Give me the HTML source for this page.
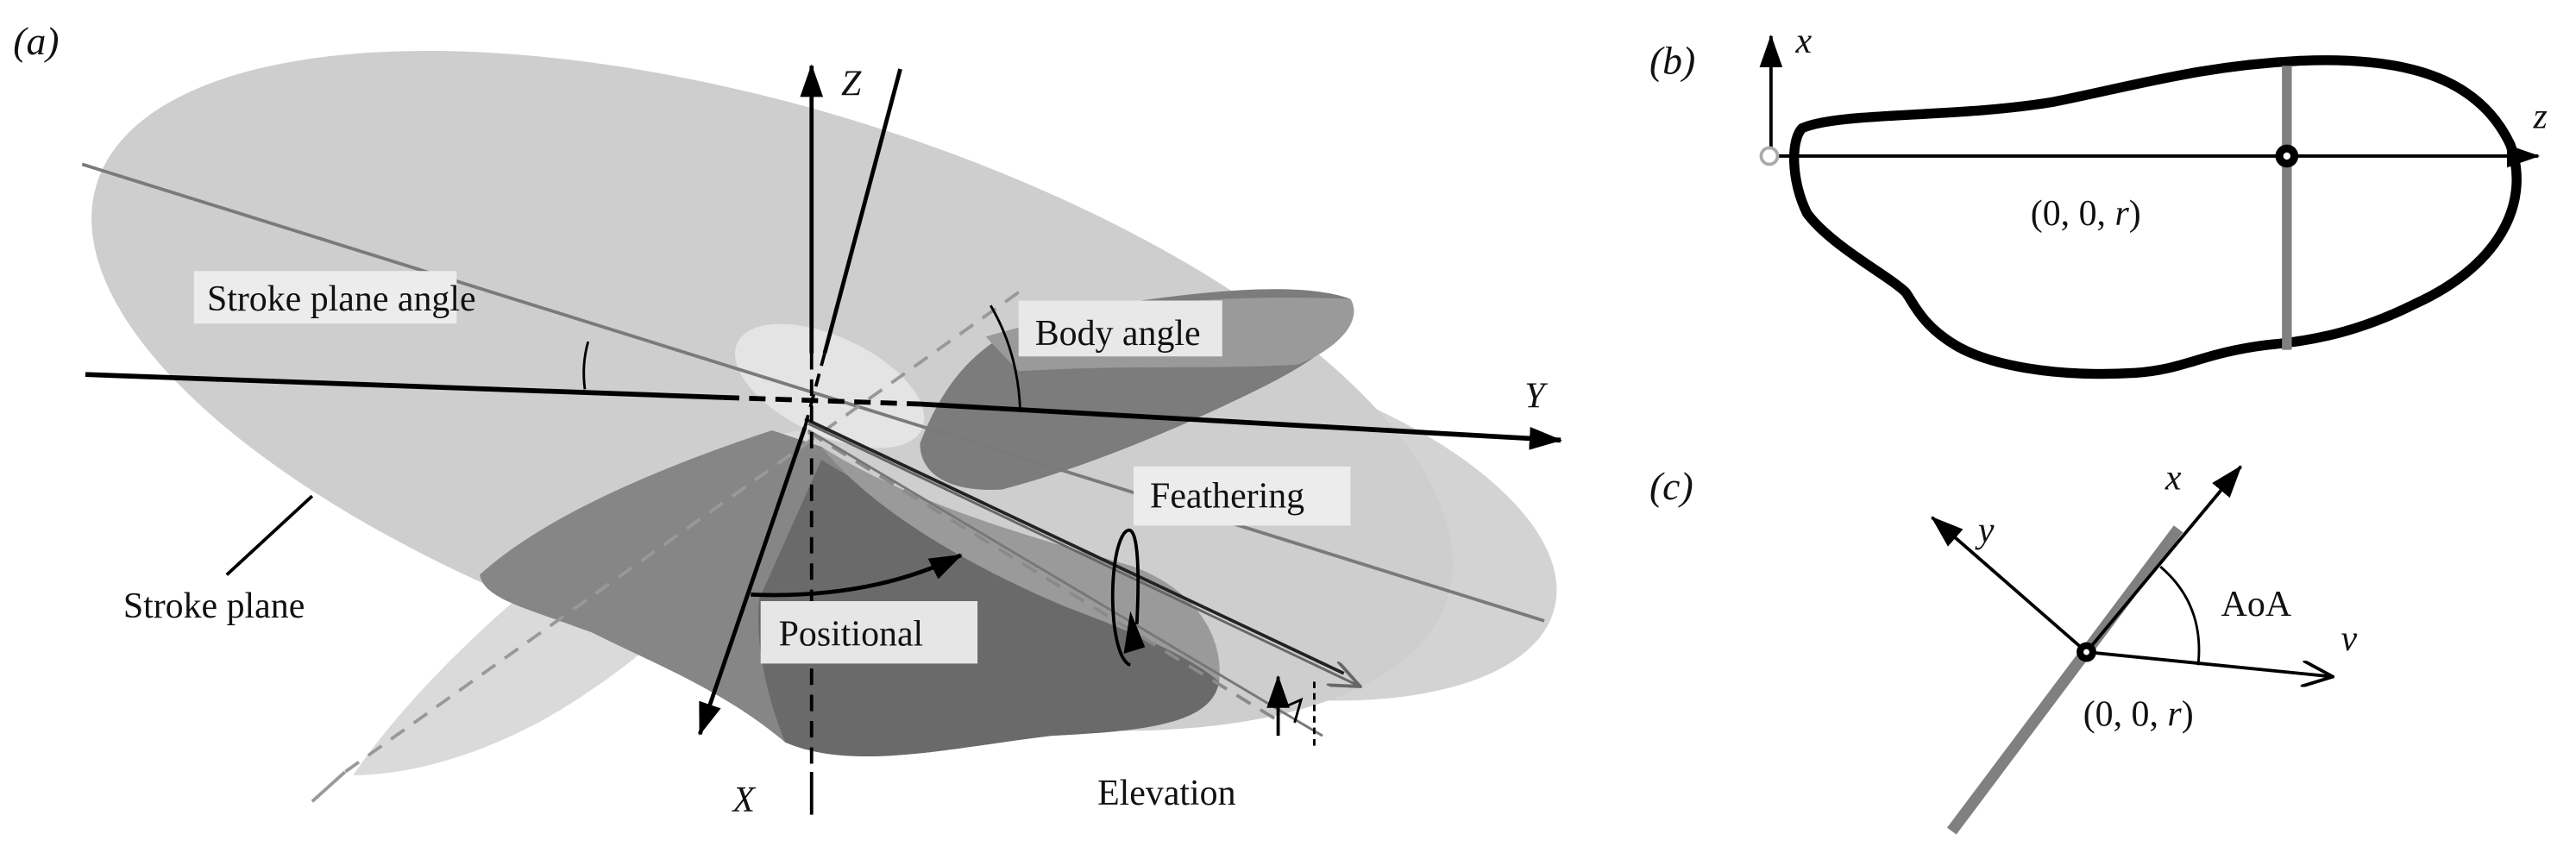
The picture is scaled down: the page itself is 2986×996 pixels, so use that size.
<!DOCTYPE html>
<html><head><style>
html,body{margin:0;padding:0;background:#fff}
svg{display:block}
text{font-family:"Liberation Serif",serif;fill:#111}
</style></head><body>
<svg width="2986" height="996" viewBox="0 0 1568 523" xmlns="http://www.w3.org/2000/svg">
<defs>
<marker id="big" viewBox="0 0 20 14" markerWidth="20" markerHeight="14" refX="19" refY="7" orient="auto" markerUnits="userSpaceOnUse"><path d="M0,0 L20,7 L0,14 z" fill="#000"/></marker>
<marker id="open" viewBox="0 0 20 16" markerWidth="20" markerHeight="16" refX="19" refY="8" orient="auto" markerUnits="userSpaceOnUse"><path d="M0,0 L19,8 L0,16" fill="none" stroke="#000" stroke-width="2"/></marker>
<marker id="openg" viewBox="0 0 20 16" markerWidth="20" markerHeight="16" refX="19" refY="8" orient="auto" markerUnits="userSpaceOnUse"><path d="M0,0 L19,8 L0,16" fill="none" stroke="#666" stroke-width="2"/></marker>
</defs>
<rect width="1568" height="523" fill="#fff"/>
<text x="8" y="33" font-size="24" font-style="italic">(a)</text>
<!-- right light plane -->
<ellipse cx="725" cy="315" rx="228" ry="100" transform="rotate(14 725 315)" fill="#d3d3d3"/>
<!-- stroke plane -->
<ellipse cx="470" cy="238" rx="430" ry="172" transform="rotate(17 470 238)" fill="#cecece"/>
<!-- lower-left leaf -->
<path d="M215,472 C250,420 330,340 420,290 C470,262 500,255 490,270 C470,320 420,380 360,420 C310,455 255,472 215,472 z" fill="#dadada"/>
<!-- dark lower wing -->
<path d="M292,350 C330,315 400,285 470,262 L500,272 C540,300 600,330 660,345 C720,365 745,390 742,415 C738,440 700,445 640,448 C580,455 520,470 478,452 C440,420 400,405 360,385 C320,370 295,365 292,350 z" fill="#868686"/>
<path d="M462,365 L500,280 C540,305 600,330 660,345 C720,365 745,390 742,415 C738,440 700,445 640,448 C580,455 520,470 478,452 C465,420 460,390 462,365 z" fill="#6a6a6a"/>
<path d="M500,272 C560,310 640,330 690,345 C730,360 745,390 742,415 C725,400 690,385 650,370 C590,345 530,310 500,272 z" fill="#9a9a9a"/>
<!-- upper-right dark wing -->
<path d="M560,270 C575,230 600,200 650,190 C720,178 790,170 822,182 C830,195 810,215 770,235 C720,260 660,285 610,298 C580,300 560,290 560,270 z" fill="#7c7c7c"/>
<path d="M600,205 C650,190 720,178 822,182 C830,195 815,212 790,222 C740,225 680,222 620,226 z" fill="#9a9a9a"/>
<!-- body light ellipse -->
<ellipse cx="505" cy="235" rx="62" ry="30" transform="rotate(25 505 235)" fill="#e4e4e4"/>
<!-- gray lines -->
<line x1="50" y1="100" x2="940" y2="378" stroke="#7a7a7a" stroke-width="2"/>
<line x1="620" y1="178" x2="210" y2="470" stroke="#999" stroke-width="2" stroke-dasharray="10,7"/>
<line x1="210" y1="470" x2="190" y2="488" stroke="#999" stroke-width="2"/>
<line x1="492" y1="263" x2="780" y2="440" stroke="#8a8a8a" stroke-width="2" stroke-dasharray="10,7"/>
<line x1="492" y1="262" x2="805" y2="448" stroke="#777" stroke-width="1.5"/>
<line x1="492" y1="258" x2="828" y2="418" stroke="#666" stroke-width="1.5" marker-end="url(#openg)"/>
<line x1="490" y1="255" x2="818" y2="410" stroke="#222" stroke-width="2"/>
<!-- Y axis -->
<line x1="52" y1="228" x2="440" y2="242" stroke="#000" stroke-width="3"/>
<line x1="440" y1="242" x2="560" y2="246" stroke="#000" stroke-width="3" stroke-dasharray="10,6"/>
<line x1="560" y1="246" x2="950" y2="268" stroke="#000" stroke-width="3" marker-end="url(#big)"/>
<!-- Z axis -->
<line x1="494" y1="215" x2="494" y2="40" stroke="#000" stroke-width="2.5" marker-end="url(#big)"/>
<line x1="494" y1="215" x2="494" y2="470" stroke="#000" stroke-width="2" stroke-dasharray="10,6"/>
<line x1="494" y1="470" x2="494" y2="496" stroke="#000" stroke-width="2"/>
<!-- tilted body axis / X -->
<line x1="548" y1="42" x2="502" y2="215" stroke="#000" stroke-width="2.5"/>
<line x1="502" y1="215" x2="490" y2="260" stroke="#000" stroke-width="2" stroke-dasharray="8,5"/>
<line x1="490" y1="260" x2="426" y2="447" stroke="#000" stroke-width="2.5" marker-end="url(#big)"/>
<!-- angle arcs -->
<path d="M358,208 Q354,222 356,237" fill="none" stroke="#000" stroke-width="1.5"/>
<path d="M603,186 Q620,215 621,251" fill="none" stroke="#000" stroke-width="1.5"/>
<!-- positional arrow -->
<path d="M457,362 Q530,365 585,338" fill="none" stroke="#000" stroke-width="2.5" marker-end="url(#big)"/>
<!-- feathering loop -->
<path d="M688,405 C675,400 674,340 684,325 C692,315 694,340 692,380" fill="none" stroke="#000" stroke-width="2"/>
<path d="M684,398 L688,372 L697,394 z" fill="#000"/>
<!-- elevation -->
<line x1="778" y1="448" x2="778" y2="412" stroke="#000" stroke-width="2" marker-end="url(#big)"/>
<line x1="800" y1="415" x2="800" y2="455" stroke="#000" stroke-width="1.5" stroke-dasharray="4,3"/>
<path d="M783,430 L792,426 L788,440" fill="none" stroke="#000" stroke-width="1.5"/>
<!-- labels -->
<rect x="118" y="165" width="160" height="32" fill="#ececec"/>
<text x="126" y="189" font-size="22">Stroke plane angle</text>
<rect x="620" y="183" width="124" height="34" fill="#e8e8e8"/>
<text x="630" y="210" font-size="22">Body angle</text>
<rect x="690" y="284" width="132" height="36" fill="#ececec"/>
<text x="700" y="309" font-size="22">Feathering</text>
<rect x="463" y="366" width="132" height="38" fill="#e6e6e6"/>
<text x="474" y="393" font-size="22">Positional</text>
<text x="75" y="376" font-size="22">Stroke plane</text>
<line x1="190" y1="302" x2="138" y2="350" stroke="#000" stroke-width="2"/>
<text x="668" y="490" font-size="22">Elevation</text>
<text x="512" y="58" font-size="22" font-style="italic">Z</text>
<text x="446" y="494" font-size="22" font-style="italic">X</text>
<text x="928" y="248" font-size="22" font-style="italic">Y</text>

<!-- panel b -->
<text x="1004" y="45" font-size="24" font-style="italic">(b)</text>
<line x1="1078" y1="90" x2="1078" y2="22" stroke="#000" stroke-width="2" marker-end="url(#big)"/>
<text x="1093" y="32" font-size="22" font-style="italic">x</text>
<path d="M1097,78 C1120,68 1190,72 1250,62 C1300,52 1340,40 1400,37 C1470,34 1510,50 1528,88 C1540,120 1525,160 1470,185 C1430,205 1400,208 1380,210 C1340,215 1330,225 1300,227 C1250,230 1210,222 1190,210 C1170,198 1165,185 1160,178 C1150,168 1115,150 1100,130 C1090,110 1090,85 1097,78 z" fill="none" stroke="#000" stroke-width="6"/>
<line x1="1082" y1="95" x2="1545" y2="95" stroke="#000" stroke-width="2" marker-end="url(#big)"/>
<circle cx="1077" cy="95" r="5" fill="#fff" stroke="#aaa" stroke-width="2"/>
<line x1="1392" y1="40" x2="1392" y2="213" stroke="#808080" stroke-width="6"/>
<circle cx="1392" cy="95" r="7" fill="#000"/>
<circle cx="1392" cy="95" r="2.2" fill="#fff"/>
<text x="1542" y="78" font-size="22" font-style="italic">z</text>
<text x="1236" y="137" font-size="22">(0, 0, <tspan font-style="italic">r</tspan>)</text>

<!-- panel c -->
<text x="1004" y="304" font-size="24" font-style="italic">(c)</text>
<line x1="1188" y1="506" x2="1326" y2="322" stroke="#808080" stroke-width="7"/>
<line x1="1270" y1="397" x2="1364" y2="284" stroke="#000" stroke-width="2" marker-end="url(#big)"/>
<line x1="1270" y1="397" x2="1176" y2="315" stroke="#000" stroke-width="2" marker-end="url(#big)"/>
<line x1="1270" y1="397" x2="1420" y2="412" stroke="#000" stroke-width="2" marker-end="url(#open)"/>
<path d="M1315,345 Q1342,368 1338,405" fill="none" stroke="#000" stroke-width="1.5"/>
<circle cx="1270" cy="397" r="6" fill="#000"/>
<circle cx="1270" cy="397" r="1.8" fill="#fff"/>
<text x="1318" y="298" font-size="22" font-style="italic">x</text>
<text x="1204" y="330" font-size="22" font-style="italic">y</text>
<text x="1425" y="396" font-size="22" font-style="italic">v</text>
<text x="1352" y="375" font-size="22">AoA</text>
<text x="1268" y="442" font-size="22">(0, 0, <tspan font-style="italic">r</tspan>)</text>
</svg>
</body></html>
